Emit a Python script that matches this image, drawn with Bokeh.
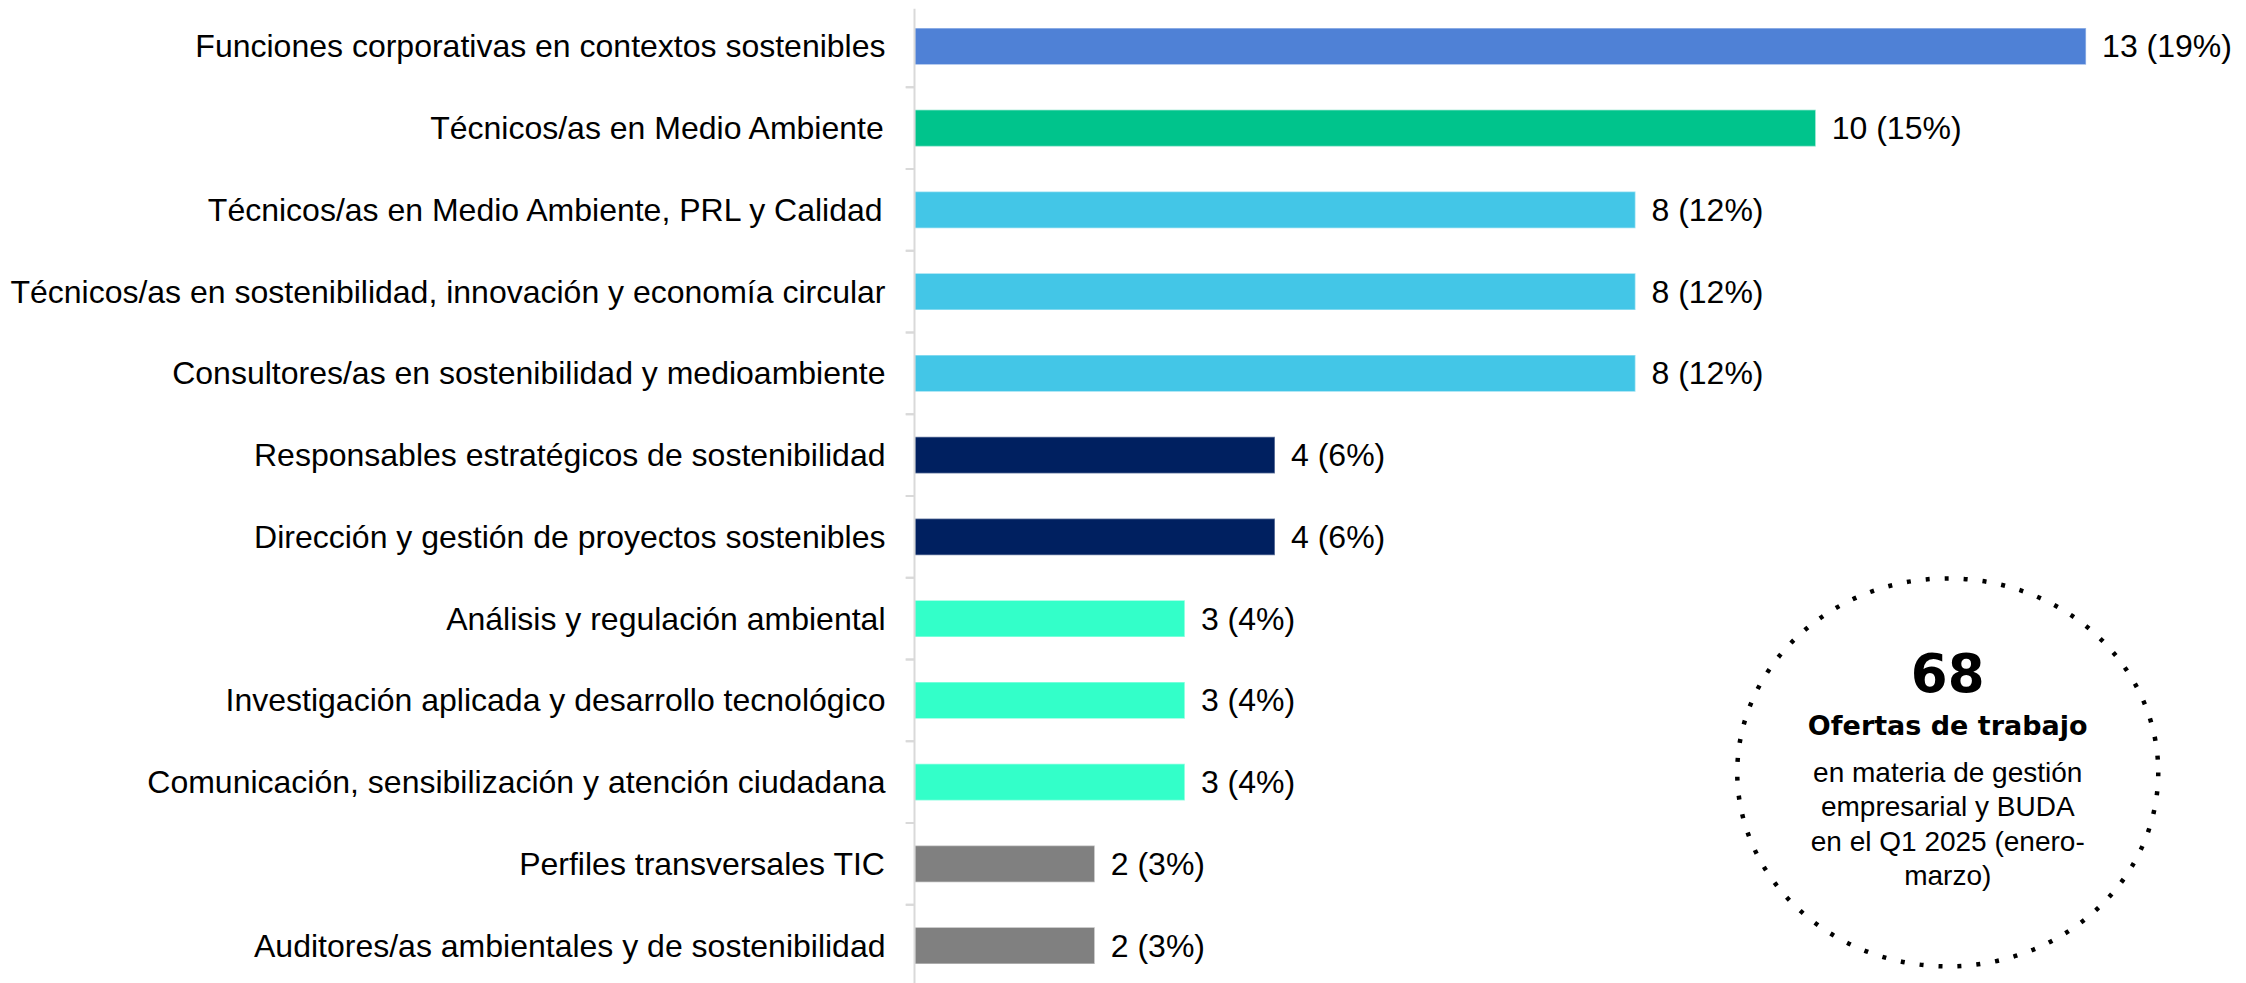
from bokeh.plotting import figure
from bokeh.models import FactorRange, Range1d, Span, ColumnDataSource
from bokeh.transform import dodge
from bokeh.core.properties import value
from bokeh.embed import file_html
from bokeh.resources import INLINE

# ---- data (top to bottom) ----
categories = [
    "Funciones corporativas en contextos sostenibles",
    "Técnicos/as en Medio Ambiente",
    "Técnicos/as en Medio Ambiente, PRL y Calidad",
    "Técnicos/as en sostenibilidad, innovación y economía circular",
    "Consultores/as en sostenibilidad y medioambiente",
    "Responsables estratégicos de sostenibilidad",
    "Dirección y gestión de proyectos sostenibles",
    "Análisis y regulación ambiental",
    "Investigación aplicada y desarrollo tecnológico",
    "Comunicación, sensibilización y atención ciudadana",
    "Perfiles transversales TIC",
    "Auditores/as ambientales y de sostenibilidad",
]
counts = [13, 10, 8, 8, 8, 4, 4, 3, 3, 3, 2, 2]
percents = [19, 15, 12, 12, 12, 6, 6, 4, 4, 4, 3, 3]
bar_colors = ["#4F81D6", "#00C48C", "#43C6E7", "#43C6E7", "#43C6E7",
              "#002060", "#002060", "#33FFC9", "#33FFC9", "#33FFC9",
              "#808080", "#808080"]
total_offers = 68
circle_lines = ["en materia de gestión", "empresarial y BUDA",
                "en el Q1 2025 (enero-", "marzo)"]
circle_title = "Ofertas de trabajo"

labels = [f"{c} ({p}%)" for c, p in zip(counts, percents)]
n = len(categories)

src = ColumnDataSource(dict(cat=categories, val=counts, color=bar_colors,
                            lab=labels, zero=[0] * n, tick0=[-0.1] * n))

W, H = 2246, 983
TOP = 8
p = figure(width=W, height=H, output_backend="svg", toolbar_location=None,
           y_range=FactorRange(factors=categories[::-1], range_padding=-0.0367,
                               range_padding_units="absolute"),
           x_range=Range1d(-0.1, 14.78),
           min_border_left=905, min_border_right=0, min_border_top=TOP,
           min_border_bottom=0)

p.outline_line_color = None
p.xgrid.visible = False
p.ygrid.visible = False
p.xaxis.visible = False
p.background_fill_color = "white"
p.border_fill_color = "white"

yax = p.yaxis[0]
yax.axis_line_color = None
yax.major_tick_out = 0
yax.major_tick_in = 0
yax.major_label_standoff = 20
yax.major_label_text_font = "Liberation Sans"
yax.major_label_text_font_size = "32px"
yax.major_label_text_color = "#000000"

# bars
p.hbar(y="cat", left="zero", right="val", height=0.45, source=src,
       fill_color="color", line_color="white", line_alpha=0.45, line_width=1.5)

# axis line and boundary ticks
p.add_layout(Span(location=0, dimension="height", line_color="#D9D9D9",
                  line_width=2))
for off in (0.5, -0.5):
    p.segment(x0="tick0", x1="zero",
              y0=dodge("cat", off, range=p.y_range),
              y1=dodge("cat", off, range=p.y_range),
              source=src, line_color="#D9D9D9", line_width=2)

# value labels
p.text(x="val", y="cat", text="lab", source=src, x_offset=16,
       text_baseline="middle", text_align="left",
       text_font=value("Liberation Sans"), text_font_size="32px",
       text_color="#000000")

# dotted circle annotation (placed in synthetic category coordinates)
CAT_PX = 81.75
def syn(page_y):
    return (n - 0.5) - (page_y - 46) / CAT_PX

cx = 11.465
p.ellipse(x=[cx], y=[syn(772)], width=[421], height=[388],
          width_units="screen", height_units="screen",
          fill_color=None, line_color="#000000", line_width=4.5,
          line_dash="4 15")

p.text(x=[cx], y=[syn(672)], text=[str(total_offers)],
       text_align="center", text_baseline="alphabetic",
       text_font=value("DejaVu Sans"), text_font_style="bold",
       text_font_size="53px", text_color="#000000")
p.text(x=[cx], y=[syn(725)], text=[circle_title],
       text_align="center", text_baseline="alphabetic",
       text_font=value("DejaVu Sans"), text_font_style="bold",
       text_font_size="27px", text_color="#000000")
line_y = [syn(v) for v in (772, 806.5, 841, 875.5)]
p.text(x=[cx] * len(circle_lines), y=line_y, text=circle_lines,
       text_align="center", text_baseline="alphabetic",
       text_font=value("Liberation Sans"), text_font_size="28px",
       text_color="#000000")

open("out.html", "w").write(file_html(p, INLINE))
